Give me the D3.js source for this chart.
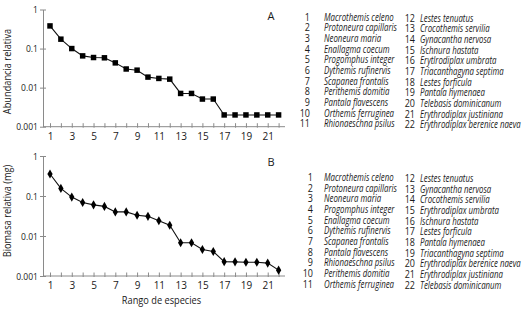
<!DOCTYPE html>
<html>
<head>
<meta charset="utf-8">
<script src="https://cdn.jsdelivr.net/npm/d3@7"></script>
<style>
body { margin: 0; background: #fff; }
svg { font-family: "Open Sans", sans-serif; }
</style>
</head>
<body>
<svg width="528" height="310"></svg>
<script>
const ranks = d3.range(1, 23)
const abundance = [0.38, 0.174, 0.1, 0.065, 0.059, 0.058, 0.043, 0.030, 0.028, 0.0186, 0.0172, 0.0165,
    0.0071, 0.0071, 0.0051, 0.0051, 0.002, 0.002, 0.002, 0.002, 0.002, 0.002]
const biomass = [0.355, 0.155, 0.094, 0.069, 0.060, 0.055, 0.040, 0.040, 0.033, 0.031, 0.024, 0.0185,
    0.0068, 0.0068, 0.0046, 0.0041, 0.00228, 0.00226, 0.0022, 0.0022, 0.0021, 0.0014]
const yTicks = [0.001, 0.01, 0.1, 1]
const yTickLabels = ["0.001", "0.01", "0.1", "1"]

const speciesA = ["Macrothemis celeno", "Protoneura capillaris", "Neoneura maria", "Enallagma coecum",
    "Progomphus integer", "Dythemis rufinervis", "Scapanea frontalis", "Perithemis domitia",
    "Pantala flavescens", "Orthemis ferruginea", "Rhionaeschna psilus", "Lestes tenuatus",
    "Crocothemis servilia", "Gynacantha nervosa", "Ischnura hastata", "Erytlrodiplax umbrata",
    "Triacanthagyna septima", "Lestes forficula", "Pantala hymenaea", "Telebasis dominicanum",
    "Erythrodiplax justiniana", "Erythrodiplax berenice naeva"]
const speciesB = ["Macrothemis celeno", "Protoneura capillaris", "Neoneura maria", "Progomphus integer",
    "Enallagma coecum", "Dythemis rufinervis", "Scapanea frontalis", "Pantala flavescens",
    "Rhionaeschna psilus", "Perithemis domitia", "Orthemis ferruginea", "Lestes tenuatus",
    "Gynacantha nervosa", "Crocothemis servilia", "Erythrodiplax umbrata", "Ischnura hastata",
    "Lestes forficula", "Pantala hymenaea", "Triacanthagyna septima", "Erythrodiplax berenice naeva",
    "Erythrodiplax justiniana", "Telebasis dominicanum"]

const svg = d3.select("svg")
const axisColor = "#8a8a8a"
const textColor = "#1a1a1a"

// squeeze texts horizontally (the original used a condensed font)
function squeeze(sel, k) {
    sel.each(function () {
        const t = d3.select(this)
        const x = +t.attr("x") || 0
        const y = +t.attr("y") || 0
        t.attr("x", 0).attr("y", 0)
            .attr("transform", `translate(${x},${y}) scale(${k},1)`)
    })
}

function squeezeToWidest(sel, target) {
    let widest = 0
    sel.each(function () { widest = Math.max(widest, this.getComputedTextLength()) })
    squeeze(sel, target / widest)
}

const xScale = d3.scaleLinear().domain([1, 22]).range([50, 278.6])

function drawPanel(values, yTop, yBottom, letter, yLabel, labelMid, symbol, symSize, species, legendTop, numEnd) {
    const yScale = d3.scaleLog().domain([0.001, 1]).range([yBottom, yTop])
    const g = svg.append("g")

    // x axis
    const xAxis = d3.axisBottom(xScale)
        .tickValues(ranks)
        .tickSizeInner(0)
        .tickSizeOuter(0)
        .tickPadding(6)
        .tickFormat(d => d % 2 == 1 ? d : "")
    const xg = g.append("g")
        .attr("transform", `translate(0,${yBottom})`)
        .call(xAxis)
    xg.select(".domain").remove()
    xg.selectAll(".tick line")
        .attr("y1", -3.5).attr("y2", 1)
        .attr("stroke", axisColor)
    xg.selectAll(".tick text")
        .attr("fill", textColor).style("font-size", "10px").style("font-family", "'Open Sans', sans-serif")
    g.append("line")
        .attr("x1", 43).attr("x2", 285)
        .attr("y1", yBottom).attr("y2", yBottom)
        .attr("stroke", axisColor)

    // y axis
    const yAxis = d3.axisLeft(yScale)
        .tickValues(yTicks)
        .tickSizeInner(3)
        .tickSizeOuter(0)
        .tickPadding(2)
        .tickFormat((d, i) => yTickLabels[i])
    const yg = g.append("g")
        .attr("transform", "translate(43,0)")
        .call(yAxis)
    yg.select(".domain").attr("stroke", axisColor)
    yg.selectAll(".tick line").attr("x1", -3).attr("x2", 3).attr("stroke", axisColor)
    yg.selectAll(".tick text")
        .attr("fill", textColor).style("font-size", "9.5px").style("font-family", "'Open Sans', sans-serif")
    yg.selectAll(".tick text").attr("x", -5)
    squeeze(yg.selectAll(".tick text"), 0.9)

    const yt = g.append("text")
        .attr("text-anchor", "middle")
        .style("font-size", "10.5px")
        .attr("fill", textColor)
        .text(yLabel)
    yt.attr("transform", `translate(11,${labelMid}) rotate(-90) scale(0.88,1)`)

    g.append("text")
        .attr("x", 271).attr("y", yTop + 10)
        .attr("text-anchor", "middle")
        .style("font-size", "11px")
        .attr("fill", textColor)
        .text(letter)

    // line and markers
    const line = d3.line()
        .x((d, i) => xScale(ranks[i]))
        .y(d => yScale(d))
    g.append("path")
        .datum(values)
        .attr("d", line)
        .attr("fill", "none")
        .attr("stroke", "#111")
        .attr("stroke-width", 1.1)
    g.selectAll("path.mark")
        .data(values)
        .enter()
        .append("path")
        .attr("class", "mark")
        .attr("transform", (d, i) => `translate(${xScale(ranks[i])},${yScale(d)})`)
        .attr("d", d3.symbol().type(symbol).size(symSize))
        .attr("fill", "#000")

    // species legend, two columns of 11
    const lg = g.append("g").attr("transform", `translate(0,${legendTop})`)
    lg.selectAll("g.item")
        .data(species)
        .enter()
        .append("g")
        .attr("class", "item")
        .each(function (d, i) {
            const col = i < 11 ? 0 : 1
            const row = i % 11
            const y = row * 10.67 + col * 1
            d3.select(this).append("text")
                .attr("class", "num")
                .attr("x", col == 0 ? numEnd : 415).attr("y", y)
                .attr("text-anchor", "end")
                .style("font-size", "10px")
                .attr("fill", textColor)
                .text(i + 1)
            d3.select(this).append("text")
                .attr("class", "name c" + col)
                .attr("x", col == 0 ? 324 : 420).attr("y", y)
                .style("font-size", "10px")
                .style("font-style", "italic")
                .attr("fill", textColor)
                .text(d)
        })
    squeeze(lg.selectAll("text.num"), 0.9)
    squeezeToWidest(lg.selectAll("text.c0"), 73)
    squeezeToWidest(lg.selectAll("text.c1"), 101)
}

drawPanel(abundance, 9.5, 126.7, "A", "Abundancia relativa", 71.5, d3.symbolSquare, 30, speciesA, 20.5, 310)
drawPanel(biomass, 156, 276, "B", "Biomasa relativa (mg)", 211, d3.symbolDiamond, 24, speciesB, 181, 313)

const xTitle = svg.append("text")
    .attr("x", 161.5).attr("y", 304)
    .attr("text-anchor", "middle")
    .style("font-size", "10.5px")
    .attr("fill", textColor)
    .text("Rango de especies")
squeeze(xTitle, 0.88)
</script>
</body>
</html>
